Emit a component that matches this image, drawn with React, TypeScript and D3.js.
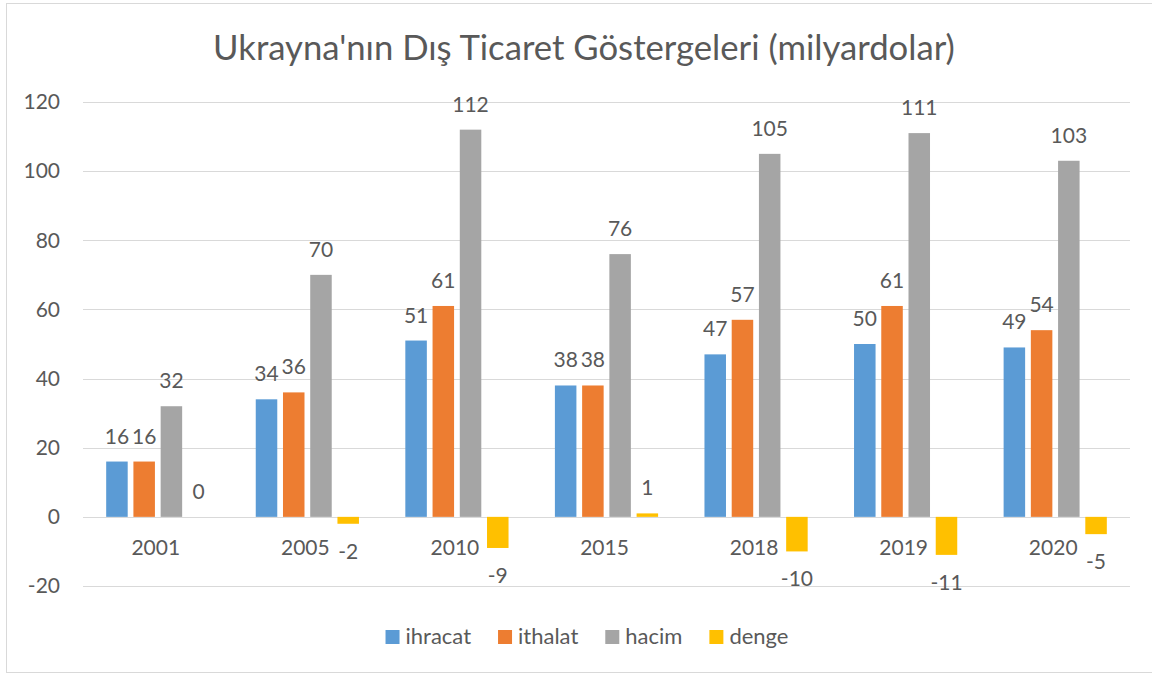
import React, { useEffect, useRef } from 'react';
import * as d3 from 'd3';

const years = ['2001', '2005', '2010', '2015', '2018', '2019', '2020'];
const ihracat = [16, 34, 51, 38, 47, 50, 49];
const ithalat = [16, 36, 61, 38, 57, 61, 54];
const hacim = [32, 70, 112, 76, 105, 111, 103];
const denge = [0, -2, -9, 1, -10, -11, -5];
const seriesNames = ['ihracat', 'ithalat', 'hacim', 'denge'];
const seriesColors = ['#5B9BD5', '#ED7D31', '#A5A5A5', '#FFC000'];
const yTicks = [-20, 0, 20, 40, 60, 80, 100, 120];
const title = "Ukrayna'nın Dış Ticaret Göstergeleri (milyardolar)";

const W = 1152;
const H = 675;
const FONT = 'Lato, "Open Sans", sans-serif';
const TEXT = '#595959';

const App = () => {
  const ref = useRef<SVGSVGElement>(null);

  useEffect(() => {
    const svg = d3.select(ref.current);
    svg.selectAll('*').remove();

    const values = [ihracat, ithalat, hacim, denge];
    const rows = years.map((y, i) => ({
      year: y,
      vals: seriesNames.map((s, k) => ({ key: s, value: values[k][i], color: seriesColors[k] })),
    }));

    // chart area border
    svg.append('rect')
      .attr('x', 6.5).attr('y', 3.5)
      .attr('width', 1200).attr('height', 669)
      .attr('fill', '#fff').attr('stroke', '#D9D9D9').attr('stroke-width', 1);

    const x0 = d3.scaleBand().domain(years).range([83, 1130])
      .paddingInner(0.31).paddingOuter(0.155);
    const x1 = d3.scaleBand().domain(seriesNames).range([0, x0.bandwidth()])
      .paddingInner(0.21);
    const y = d3.scaleLinear().domain([-20, 120]).range([586, 102]);

    // title
    svg.append('text')
      .attr('x', 584).attr('y', 60)
      .attr('text-anchor', 'middle')
      .attr('font-family', FONT).attr('font-size', 34.7)
      .attr('fill', TEXT)
      .text(title);

    // gridlines
    svg.append('g').selectAll('line').data(yTicks).enter().append('line')
      .attr('x1', 83).attr('x2', 1130)
      .attr('y1', (d) => Math.round(y(d)) + 0.5).attr('y2', (d) => Math.round(y(d)) + 0.5)
      .attr('stroke', '#D9D9D9').attr('stroke-width', 1);

    // y tick labels
    svg.append('g').selectAll('text').data(yTicks).enter().append('text')
      .attr('x', 60).attr('y', (d) => y(d))
      .attr('dy', '0.35em')
      .attr('text-anchor', 'end')
      .attr('font-family', FONT).attr('font-size', 21)
      .attr('fill', TEXT)
      .text((d) => d);

    // bars
    const groups = svg.append('g').selectAll('g').data(rows).enter().append('g')
      .attr('transform', (d) => `translate(${x0(d.year)},0)`);

    groups.selectAll('rect').data((d) => d.vals).enter().append('rect')
      .attr('x', (d) => x1(d.key))
      .attr('y', (d) => y(Math.max(0, d.value)))
      .attr('width', x1.bandwidth())
      .attr('height', (d) => Math.abs(y(d.value) - y(0)))
      .attr('fill', (d) => d.color);

    // data labels
    groups.selectAll('text').data((d) => d.vals).enter().append('text')
      .attr('x', (d) => x1(d.key) + x1.bandwidth() / 2)
      .attr('y', (d) => (d.value >= 0 ? y(d.value) - 18 : y(d.value) + 35))
      .attr('text-anchor', 'middle')
      .attr('font-family', FONT).attr('font-size', 21)
      .attr('fill', TEXT)
      .text((d) => d.value);

    // category labels
    svg.append('g').selectAll('text').data(years).enter().append('text')
      .attr('x', (d) => x0(d) + x0.bandwidth() / 2 - 2)
      .attr('y', 555)
      .attr('text-anchor', 'middle')
      .attr('font-family', FONT).attr('font-size', 21)
      .attr('fill', TEXT)
      .text((d) => d);

    // legend
    const legend = svg.append('g');
    const items = legend.selectAll('g').data(seriesNames).enter().append('g');
    items.append('rect')
      .attr('width', 14).attr('height', 14).attr('y', 630)
      .attr('fill', (d, i) => seriesColors[i]);
    items.append('text')
      .attr('x', 20).attr('y', 644)
      .attr('font-family', FONT).attr('font-size', 22)
      .attr('fill', TEXT)
      .text((d) => d);
    let xpos = 0;
    const offsets: number[] = [];
    items.each(function () {
      const t = d3.select(this).select('text').node() as SVGTextElement;
      offsets.push(xpos);
      xpos += 20 + t.getComputedTextLength() + 27;
    });
    const total = xpos - 27;
    const startX = 587 - total / 2;
    items.attr('transform', (d, i) => `translate(${startX + offsets[i]},0)`);
  }, []);

  return (
    <div style={{ position: 'absolute', left: 0, top: 0, width: W, height: H, background: '#fff' }}>
      <svg ref={ref} width={W} height={H} style={{ display: 'block' }}></svg>
    </div>
  );
};

export default App;
